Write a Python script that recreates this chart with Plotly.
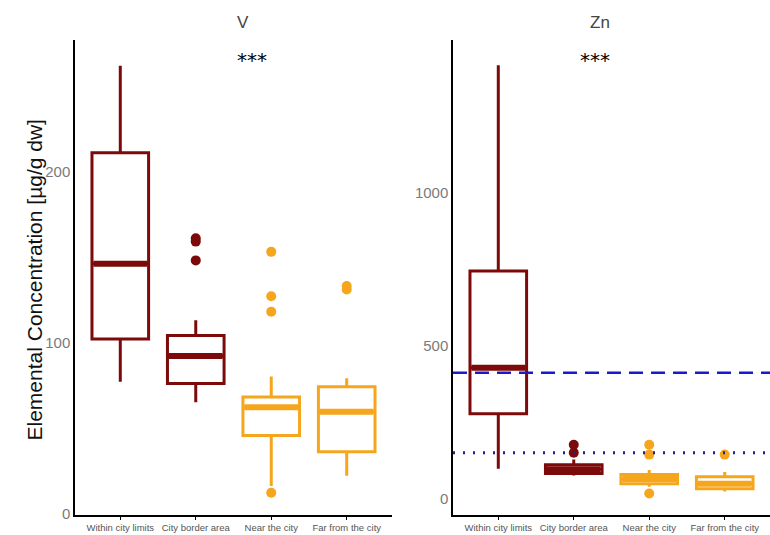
import plotly.graph_objects as go

categories = ["Within city limits", "City border area", "Near the city", "Far from the city"]
group_colors = ["#7d0a0a", "#7d0a0a", "#f5a61c", "#f5a61c"]

# V panel (box statistics)
v_lower = [77, 65, 16, 22]
v_q1 = [102, 76, 45.5, 36]
v_median = [146, 92, 62, 59.5]
v_q3 = [211, 104, 68, 74]
v_upper = [262, 113, 80, 79]
v_outliers = [[], [161, 159, 148], [153, 127, 118, 12], [133, 131]]

# Zn panel (box statistics)
zn_lower = [99, 77, 40, 25]
zn_q1 = [278, 83, 50, 34]
zn_median = [428, 97, 65, 50]
zn_q3 = [744, 112, 80, 73]
zn_upper = [1415, 129, 95, 88]
zn_outliers = [[], [177, 151], [177, 145, 18], [145]]

zn_dashed = 412
zn_dotted = 151

positions = [1, 2, 3, 4]
box_width = 0.75

fig = go.Figure()

def add_panel(xa, ya, lower, q1, med, q3, upper, outs):
    for i, c in enumerate(categories):
        col = group_colors[i]
        fig.add_trace(go.Box(
            x=[positions[i]], q1=[q1[i]], median=[med[i]], q3=[q3[i]],
            lowerfence=[lower[i]], upperfence=[upper[i]],
            width=box_width, whiskerwidth=0, boxpoints=False,
            line=dict(color=col, width=3), fillcolor="white",
            xaxis=xa, yaxis=ya, showlegend=False, hoverinfo="skip"))
        fig.add_trace(go.Scatter(
            x=[positions[i] - box_width / 2 + 0.02, positions[i] + box_width / 2 - 0.02],
            y=[med[i], med[i]], mode="lines",
            line=dict(color=col, width=6), xaxis=xa, yaxis=ya,
            showlegend=False, hoverinfo="skip"))
        if outs[i]:
            fig.add_trace(go.Scatter(
                x=[positions[i]] * len(outs[i]), y=outs[i], mode="markers",
                marker=dict(color=col, size=10), xaxis=xa, yaxis=ya,
                showlegend=False, hoverinfo="skip"))

add_panel("x", "y", v_lower, v_q1, v_median, v_q3, v_upper, v_outliers)
add_panel("x2", "y2", zn_lower, zn_q1, zn_median, zn_q3, zn_upper, zn_outliers)

# reference lines for Zn
fig.add_trace(go.Scatter(x=[0.4, 4.6], y=[zn_dashed, zn_dashed], mode="lines",
                         line=dict(color="#1a1acc", width=2.5, dash="14px,8px"),
                         xaxis="x2", yaxis="y2", showlegend=False, hoverinfo="skip"))
fig.add_trace(go.Scatter(x=[0.4, 4.6], y=[zn_dotted, zn_dotted], mode="lines",
                         line=dict(color="#202090", width=2.8, dash="2px,8px"),
                         xaxis="x2", yaxis="y2", showlegend=False, hoverinfo="skip"))

ydom = [1 - 515 / 535, 1 - 40 / 535]
xcommon = dict(tickmode="array", tickvals=positions, ticktext=categories,
               showline=True, linecolor="black", linewidth=1.5, ticks="outside",
               ticklen=3, tickcolor="black", showgrid=False, zeroline=False,
               tickfont=dict(family="Liberation Sans, Arial", size=9.5, color="#555555"),
               range=[0.4, 4.6], automargin=False)
ycommon = dict(showline=True, linecolor="black", linewidth=1.5, ticks="",
               showgrid=False, zeroline=False, automargin=False,
               tickfont=dict(family="Liberation Sans, Arial", size=15, color="#7a7a7a"))

fig.update_layout(
    width=770, height=535,
    margin=dict(l=0, r=0, t=0, b=0),
    plot_bgcolor="white", paper_bgcolor="white",
    xaxis=dict(domain=[75 / 770, 392 / 770], anchor="y", **xcommon),
    xaxis2=dict(domain=[453 / 770, 1.0], anchor="y2", **xcommon),
    yaxis=dict(domain=ydom, anchor="x", range=[-1, 277], tickvals=[0, 100, 200], **ycommon),
    yaxis2=dict(domain=ydom, anchor="x2", range=[-52, 1497], tickvals=[0, 500, 1000], **ycommon),
    annotations=[
        dict(text="V", x=235 / 770, y=1 - 22 / 535, xref="paper", yref="paper", yanchor="middle",
             showarrow=False, font=dict(family="Liberation Sans, Arial", size=17, color="#444444")),
        dict(text="Zn", x=612 / 770, y=1 - 22 / 535, xref="paper", yref="paper", yanchor="middle",
             showarrow=False, font=dict(family="Liberation Sans, Arial", size=17, color="#444444")),
        dict(text="***", x=235 / 770, y=1 - 60 / 535, xref="paper", yref="paper", yanchor="middle",
             showarrow=False, font=dict(family="DejaVu Sans", size=20, color="black")),
        dict(text="***", x=612 / 770, y=1 - 60 / 535, xref="paper", yref="paper", yanchor="middle",
             showarrow=False, font=dict(family="DejaVu Sans", size=20, color="black")),
        dict(text="Elemental Concentration [µg/g dw]", x=20 / 770, y=1 - 280 / 535,
             xref="paper", yref="paper", textangle=-90, showarrow=False,
             font=dict(family="Liberation Sans, Arial", size=21, color="#111111")),
    ],
)

fig.write_html("out.html")
